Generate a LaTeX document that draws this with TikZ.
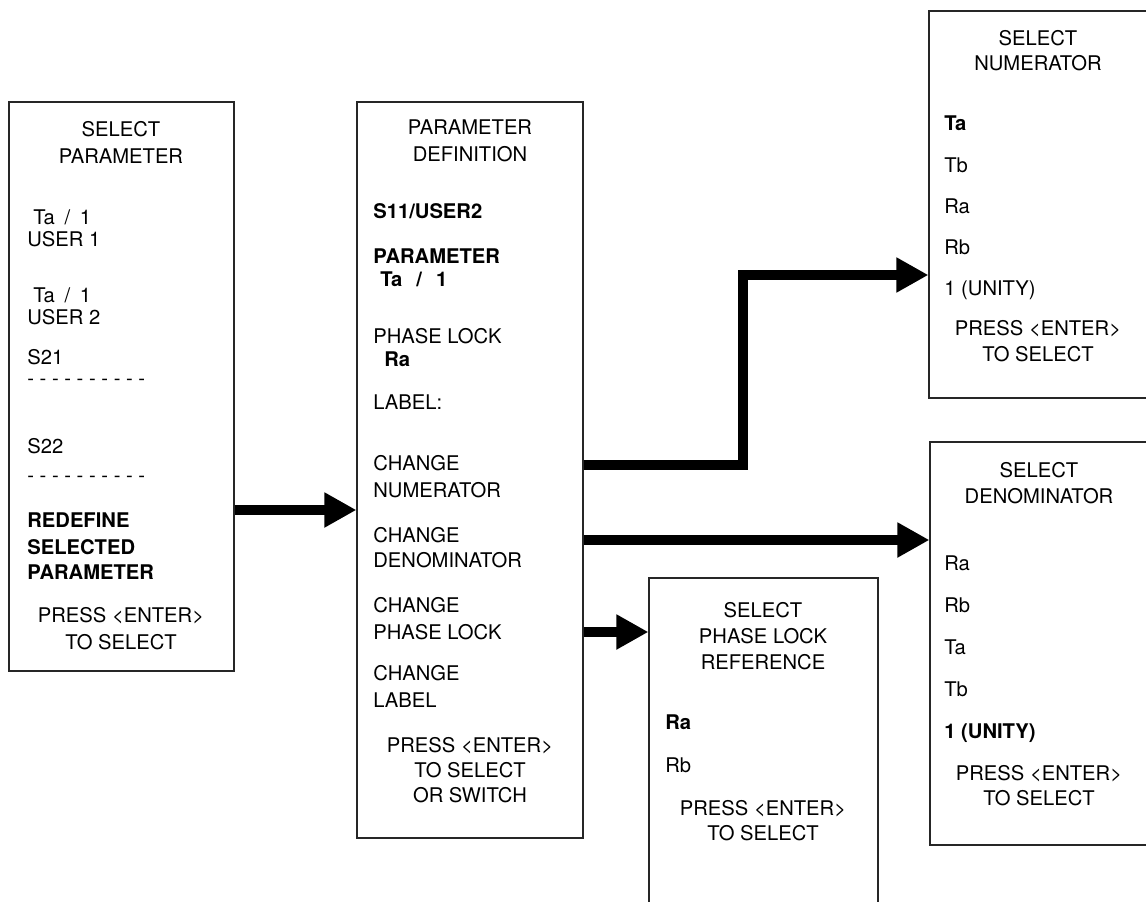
\documentclass[tikz,border=0pt]{standalone}
\usepackage{fontspec}
\setmainfont{TeX Gyre Heros}
\usetikzlibrary{arrows.meta, positioning}

\begin{document}
\begin{tikzpicture}[
    x=0.02cm, y=-0.02cm,
    font=\fontsize{11.5}{14}\selectfont,
    kotak/.style={draw=black!85, line width=0.7pt, inner sep=0},
    judul/.style={anchor=base, inner sep=0},
    isi/.style={anchor=base west, inner sep=0},
    tebal/.style={isi, font=\fontsize{11.5}{14}\selectfont\bfseries},
    panah/.style={-{Triangle[length=0.64cm, width=0.66cm]}, line width=6.2pt, line join=miter}
  ]
    \useasboundingbox (0,0) rectangle (1146,902);
    \clip (0,0) rectangle (1146,902);

    \node[kotak, minimum width=4.5cm, minimum height=11.38cm] (pilih) at (121.5,386.5) {};
    \node[judul] (pilih-j1) at (121,137) {SELECT};
    \node[judul] (pilih-j2) at (121,164) {PARAMETER};
    \node[isi] (pilih-a) at (33,225) {Ta\hspace{5.5pt}/\hspace{5.5pt}1};
    \node[isi] (pilih-b) at (27,247) {USER 1};
    \node[isi] (pilih-c) at (33,302) {Ta\hspace{5.5pt}/\hspace{5.5pt}1};
    \node[isi] (pilih-d) at (27,324) {USER 2};
    \node[isi] (pilih-e) at (27,364) {S21};
    \node[isi] (pilih-f) at (27,385) {- - - - - - - - - -};
    \node[isi] (pilih-g) at (27,453) {S22};
    \node[isi] (pilih-h) at (27,482) {- - - - - - - - - -};
    \foreach \t/\y in {REDEFINE/527, SELECTED/554, PARAMETER/579}
      \node[tebal] (pilih-\y) at (27,\y) {\t};
    \node[judul] (pilih-k1) at (121,622) {PRESS <ENTER>};
    \node[judul] (pilih-k2) at (121,649) {TO SELECT};

    \node[kotak, minimum width=4.52cm, minimum height=14.72cm] (definisi) at (470,470) {};
    \node[judul] (def-j1) at (470,135) {PARAMETER};
    \node[judul] (def-j2) at (470,162) {DEFINITION};
    \node[tebal] (def-a) at (373,219) {S11/USER2};
    \node[tebal] (def-b) at (373,264) {PARAMETER};
    \node[tebal] (def-c) at (380,287) {Ta\hspace{8pt}/\hspace{8pt}1};
    \node[isi] (def-d) at (373,343) {PHASE LOCK};
    \node[tebal] (def-e) at (384,366) {Ra};
    \node[isi] (def-f) at (373,409) {LABEL:};
    \foreach \t/\y in {CHANGE/470, NUMERATOR/497, CHANGE/542, DENOMINATOR/567,
                       CHANGE/612, PHASE LOCK/639, CHANGE/680, LABEL/707}
      \node[isi] (def-\y) at (373,\y) {\t};
    \foreach \t/\y in {PRESS <ENTER>/752, TO SELECT/777, OR SWITCH/802}
      \node[judul] (def-\y) at (470,\y) {\t};

    \node[kotak, minimum width=4.38cm, minimum height=7.74cm] (pembilang) at (1038.5,204.5) {};
    \node[judul] (pem-j1) at (1038,46) {SELECT};
    \node[judul] (pem-j2) at (1038,71) {NUMERATOR};
    \node[tebal] (pem-a) at (944,131) {Ta};
    \foreach \t/\y in {Tb/173, Ra/214, Rb/255, 1 (UNITY)/296}
      \node[isi] (pem-\y) at (944,\y) {\t};
    \node[judul] (pem-k1) at (1038,336) {PRESS <ENTER>};
    \node[judul] (pem-k2) at (1038,361) {TO SELECT};

    \node[kotak, minimum width=4.36cm, minimum height=8.06cm] (penyebut) at (1039,643.5) {};
    \node[judul] (pen-j1) at (1039,477) {SELECT};
    \node[judul] (pen-j2) at (1039,503) {DENOMINATOR};
    \foreach \t/\y in {Ra/570, Rb/612, Ta/654, Tb/696}
      \node[isi] (pen-\y) at (944,\y) {\t};
    \node[tebal] (pen-e) at (944,738) {1 (UNITY)};
    \node[judul] (pen-k1) at (1039,780) {PRESS <ENTER>};
    \node[judul] (pen-k2) at (1039,805) {TO SELECT};

    \node[kotak, minimum width=4.58cm, minimum height=7.04cm] (kuncifase) at (763.5,754) {};
    \node[judul] (kun-j1) at (763,617) {SELECT};
    \node[judul] (kun-j2) at (763,643) {PHASE LOCK};
    \node[judul] (kun-j3) at (763,669) {REFERENCE};
    \node[tebal] (kun-a) at (665,729) {Ra};
    \node[isi] (kun-b) at (665,772) {Rb};
    \node[judul] (kun-k1) at (763,815) {PRESS <ENTER>};
    \node[judul] (kun-k2) at (763,840) {TO SELECT};

    \draw[panah] (pilih.east |- 0,510) -- (definisi.west |- 0,510);
    \draw[panah] (definisi.east |- 0,465) -| (743,275) -- (pembilang.west |- 0,275);
    \draw[panah] (definisi.east |- 0,540) -- (penyebut.west |- 0,540);
    \draw[panah] (definisi.east |- 0,632) -- (kuncifase.west |- 0,632);
\end{tikzpicture}
\end{document}
